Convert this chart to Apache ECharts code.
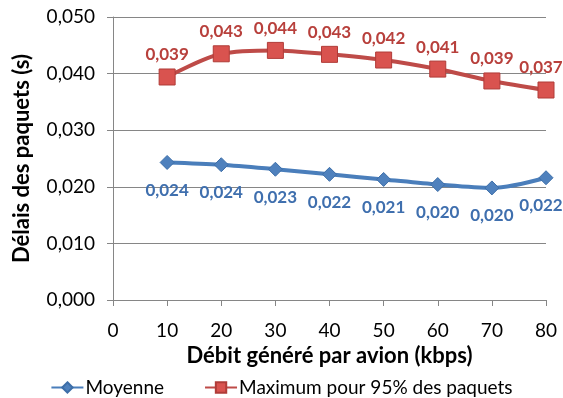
<!DOCTYPE html>
<html>
<head>
<meta charset="utf-8">
<script src="https://cdn.jsdelivr.net/npm/echarts@6/dist/echarts.min.js"></script>
<style>
html, body { margin: 0; padding: 0; background: #fff; }
#chart { width: 563px; height: 398px; }
</style>
</head>
<body>
<div id="chart"></div>
<script>
// debit genere par avion (kbps)
var debits = [10, 20, 30, 40, 50, 60, 70, 80];
var moyenne = [0.0243, 0.0239, 0.0231, 0.0222, 0.0213, 0.0204, 0.0198, 0.0216];
var maximum95 = [0.0394, 0.0435, 0.0441, 0.0434, 0.0424, 0.0408, 0.0387, 0.0371];
var yTicks = [0, 0.01, 0.02, 0.03, 0.04, 0.05];

var fontFam = 'Lato, "Open Sans", sans-serif';

function fmt(v) {
    return v.toFixed(3).replace('.', ',');
}
function pairs(vals) {
    var out = [];
    for (var i = 0; i < debits.length; ++i) {
        var item = { value: [debits[i], vals[i]] };
        // last label sits against the right edge, nudge it in
        if (i == debits.length - 1) {
            item.label = { offset: [-5, 0] };
        }
        out.push(item);
    }
    return out;
}

var chart = echarts.init(document.getElementById('chart'));
chart.setOption({
    animation: false,
    grid: { left: 113, right: 17, top: 17, bottom: 98 },
    legend: {
        top: 373,
        left: 'center',
        itemWidth: 32,
        itemHeight: 13,
        itemGap: 40,
        textStyle: { fontFamily: fontFam, fontSize: 19, color: '#000', padding: [0, 0, 0, -3] },
        data: ['Moyenne', 'Maximum pour 95% des paquets']
    },
    xAxis: {
        type: 'value',
        min: 0,
        max: 80,
        interval: 10,
        name: 'Débit généré par avion (kbps)',
        nameLocation: 'middle',
        nameGap: 45,
        nameTextStyle: { fontFamily: fontFam, fontSize: 22, fontWeight: 'bold', color: '#000' },
        axisLine: { lineStyle: { color: '#868686' } },
        axisTick: { show: true, length: 6, lineStyle: { color: '#868686' } },
        axisLabel: { fontFamily: fontFam, fontSize: 19, color: '#000', margin: 21 },
        splitLine: { show: false }
    },
    yAxis: {
        type: 'value',
        min: yTicks[0],
        max: yTicks[yTicks.length - 1],
        interval: 0.01,
        name: 'Délais des paquets (s)',
        nameLocation: 'middle',
        nameGap: 80,
        nameTextStyle: { fontFamily: fontFam, fontSize: 22, fontWeight: 'bold', color: '#000' },
        axisLine: { show: true, lineStyle: { color: '#868686' } },
        axisTick: { show: true, length: 6, lineStyle: { color: '#868686' } },
        axisLabel: {
            fontFamily: fontFam, fontSize: 19, color: '#000', margin: 18,
            formatter: function (v) { return fmt(v); }
        },
        splitLine: { lineStyle: { color: '#868686' } }
    },
    series: [
        {
            name: 'Moyenne',
            type: 'line',
            smooth: 0.3,
            data: pairs(moyenne),
            symbol: 'diamond',
            symbolSize: 14,
            lineStyle: { width: 4, color: '#4A7EBB' },
            itemStyle: { color: '#4F81BD', borderColor: '#3D6EA8', borderWidth: 1 },
            label: {
                show: true,
                position: 'bottom',
                distance: 12,
                fontFamily: fontFam,
                fontSize: 17,
                fontWeight: 'bold',
                color: '#3F6FAE',
                formatter: function (p) { return fmt(p.value[1]); }
            }
        },
        {
            name: 'Maximum pour 95% des paquets',
            type: 'line',
            smooth: 0.3,
            data: pairs(maximum95),
            symbol: 'rect',
            symbolSize: 16,
            lineStyle: { width: 4, color: '#BE4B48' },
            itemStyle: { color: '#D9534F', borderColor: '#B03C38', borderWidth: 1 },
            label: {
                show: true,
                position: 'top',
                distance: 5,
                fontFamily: fontFam,
                fontSize: 17,
                fontWeight: 'bold',
                color: '#B8403C',
                formatter: function (p) { return fmt(p.value[1]); }
            }
        }
    ]
});
</script>
</body>
</html>
